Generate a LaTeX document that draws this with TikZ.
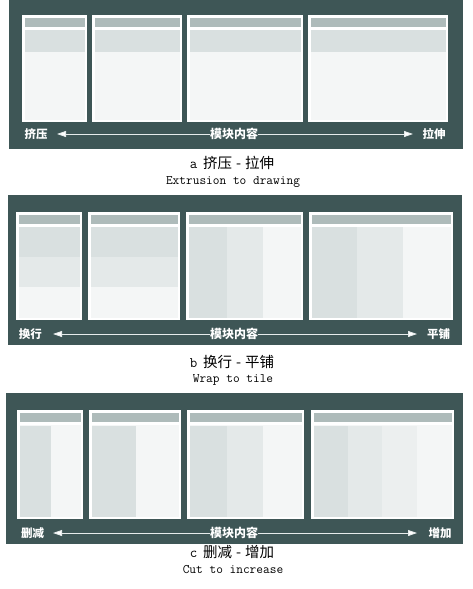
\documentclass[tikz,border=0pt]{standalone}
\usepackage{fontspec}
\newfontfamily\cjk{Noto Sans CJK SC}
\usetikzlibrary{arrows.meta}
\definecolor{panel}{HTML}{3E5656}
\definecolor{hdr}{HTML}{AEBBBA}
\definecolor{cA}{HTML}{D9E0E0}
\definecolor{cB}{HTML}{E4E9E9}
\definecolor{cC}{HTML}{ECEFEF}
\definecolor{cD}{HTML}{F4F6F6}
\definecolor{arrowc}{HTML}{E6EBEB}
\newcommand\modbox[4]{%
  \fill[white] (#1,#3) rectangle (#2,#4);
  \fill[hdr] ({#1+2.5},{#3+2.5}) rectangle ({#2-2.5},{#3+12});
  \fill[cD] ({#1+2.5},{#3+14.5}) rectangle ({#2-2.5},{#4-2.5});
}
\newcommand\capline[3]{{\ttfamily #1}\hspace{6pt}{\cjk #2\hspace{4pt}-\hspace{4pt}#3}}
\tikzset{
  panelbg/.style={fill=panel},
  lbl/.style={text=white, font=\cjk\bfseries\fontsize{11.5}{13}\selectfont, inner sep=0pt},
  midlbl/.style={text=white, font=\cjk\bfseries\fontsize{12}{13}\selectfont, inner sep=0pt},
  arr/.style={draw=arrowc, line width=0.8pt, -{Triangle[length=9pt,width=6pt,fill=white]}},
  capcn/.style={font=\fontsize{14.5}{16}\selectfont, inner sep=0pt},
  capen/.style={font=\ttfamily\fontsize{13}{15}\selectfont, inner sep=0pt},
}
\begin{document}
\begin{tikzpicture}[x=1pt,y=-1pt]
\useasboundingbox (0,0) rectangle (473,589);
\fill[white] (0,0) rectangle (473,589);

% ---------------- panel a
\fill[panelbg] (9,0) rectangle (463,149);
\modbox{22}{87}{15}{122}
\modbox{92}{182}{15}{122}
\modbox{187}{303}{15}{122}
\modbox{308}{448}{15}{122}
\fill[cA] (24.5,29.5) rectangle (84.5,52);
\fill[cA] (94.5,29.5) rectangle (179.5,52);
\fill[cA] (189.5,29.5) rectangle (300.5,52);
\fill[cA] (310.5,29.5) rectangle (445.5,52);
\node[lbl] (aL) at (36,134) {挤压};
\node[midlbl] (aM) at (234,134) {模块内容};
\node[lbl] (aR) at (434,134) {拉伸};
\coordinate (aLt) at (57,134);
\coordinate (aRt) at (413,134);
\draw[arr] (aM.west) -- (aLt);
\draw[arr] (aM.east) -- (aRt);
\node[capcn] (aC1) at (232,163) {\capline{a}{挤压}{拉伸}};
\node[capen] (aC2) at (233,182) {Extrusion to drawing};

% ---------------- panel b
\fill[panelbg] (8,195) rectangle (462,345);
\modbox{16}{82}{212}{320}
\modbox{88}{180}{212}{320}
\modbox{186}{303}{212}{320}
\modbox{309}{453}{212}{320}
\fill[cA] (18.5,226.5) rectangle (79.5,257);
\fill[cB] (18.5,257) rectangle (79.5,287);
\fill[cA] (90.5,226.5) rectangle (177.5,257);
\fill[cB] (90.5,257) rectangle (177.5,287);
\fill[cA] (188.5,226.5) rectangle (227,317.5);
\fill[cB] (227,226.5) rectangle (263,317.5);
\fill[cA] (311.5,226.5) rectangle (357,317.5);
\fill[cB] (357,226.5) rectangle (403,317.5);
\node[lbl] (bL) at (30.5,334) {换行};
\node[midlbl] (bM) at (234,334) {模块内容};
\node[lbl] (bR) at (438.5,334) {平铺};
\coordinate (bLt) at (53,334);
\coordinate (bRt) at (417,334);
\draw[arr] (bM.west) -- (bLt);
\draw[arr] (bM.east) -- (bRt);
\node[capcn] (bC1) at (232,362) {\capline{b}{换行}{平铺}};
\node[capen] (bC2) at (233,380) {Wrap to tile};

% ---------------- panel c
\fill[panelbg] (6,393) rectangle (463,544);
\modbox{17}{83}{410}{519}
\modbox{89}{181}{410}{519}
\modbox{187}{304}{410}{519}
\modbox{311}{454}{410}{519}
\fill[cA] (19.5,425.5) rectangle (51,516.5);
\fill[cA] (91.5,425.5) rectangle (136,516.5);
\fill[cA] (189.5,425.5) rectangle (227,516.5);
\fill[cB] (227,425.5) rectangle (263,516.5);
\fill[cA] (313.5,425.5) rectangle (348,516.5);
\fill[cB] (348,425.5) rectangle (382,516.5);
\fill[cC] (382,425.5) rectangle (417,516.5);
\node[lbl] (cL) at (32.5,533) {删减};
\node[midlbl] (cM) at (234,533) {模块内容};
\node[lbl] (cR) at (440,533) {增加};
\coordinate (cLt) at (53,533);
\coordinate (cRt) at (417,533);
\draw[arr] (cM.west) -- (cLt);
\draw[arr] (cM.east) -- (cRt);
\node[capcn] (cC1) at (232,552) {\capline{c}{删减}{增加}};
\node[capen] (cC2) at (233,570) {Cut to increase};
\end{tikzpicture}
\end{document}
